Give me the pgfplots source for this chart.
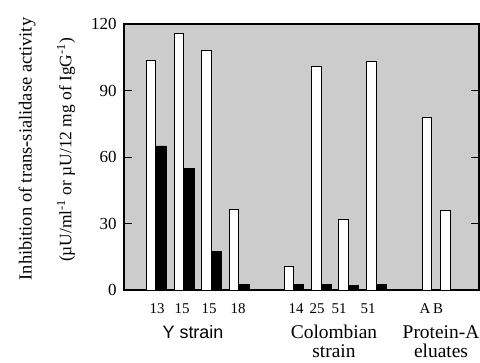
\documentclass[border=0pt]{standalone}
\usepackage{fontspec}
\setmainfont{Liberation Serif}
\newfontfamily\arialfont{Liberation Sans}
\usepackage{pgfplots}
\pgfplotsset{compat=1.18}
\begin{document}
\begin{tikzpicture}[x=1bp,y=1bp]
\path[use as bounding box] (0,0) rectangle (480,362);
\begin{axis}[
  at={(124bp,72bp)}, anchor=south west,
  scale only axis, width=355bp, height=266bp,
  xmin=124, xmax=479, ymin=0, ymax=120,
  ytick={0,30,60,90,120},
  ytick pos=both, yticklabel pos=left,
  tick align=inside, major tick length=8bp,
  xtick={157,182,209,238,296,317,339,368,425,438},
  xticklabels={13,15,15,18,14,25,51,51,A,B},
  xtick style={draw=none},
  /pgf/number format/assume math mode=true,
  yticklabel style={font=\fontsize{17}{18}\selectfont, xshift=-4bp},
  xticklabel style={font=\fontsize{15}{16}\selectfont, yshift=-2bp},
  axis background/.style={fill=black!20},
  axis line style={line width=1.2bp},
  every tick/.style={line width=1bp, black},
  clip=false,
  ybar, bar width=9.5,
]
\addplot[fill=white, draw=black, line width=1bp, bar shift=0pt] coordinates {
  (151,103.7) (179,115.5) (206.5,108) (234,36.5)
  (289,10.8) (316.5,101) (343.5,31.6) (371.5,103)
  (427,78) (445.5,35.7)};
\addplot[fill=black, draw=black, line width=0.5bp, bar shift=0pt] coordinates {
  (161,65) (189,55) (216,17.5) (244,2.5)
  (298.5,2.5) (326,2.5) (353.5,2) (381,2.5)};
\end{axis}
\node[rotate=90, font=\fontsize{18.5}{19}\selectfont] at (27,213) {Inhibition of trans-sialidase activity};
\node[rotate=90, font=\fontsize{17.5}{18}\selectfont] at (66,212) {(µU/ml\textsuperscript{-1} or µU/12 mg of IgG\textsuperscript{-1})};
\node[font=\arialfont\fontsize{18}{19}\selectfont] at (193,30) {Y strain};
\node[font=\fontsize{19.5}{20}\selectfont] at (334,30) {Colombian};
\node[font=\fontsize{19.5}{20}\selectfont] at (334,11) {strain};
\node[font=\fontsize{19.5}{20}\selectfont] at (441,30) {Protein-A};
\node[font=\fontsize{19.5}{20}\selectfont] at (441,11) {eluates};
\end{tikzpicture}
\end{document}
